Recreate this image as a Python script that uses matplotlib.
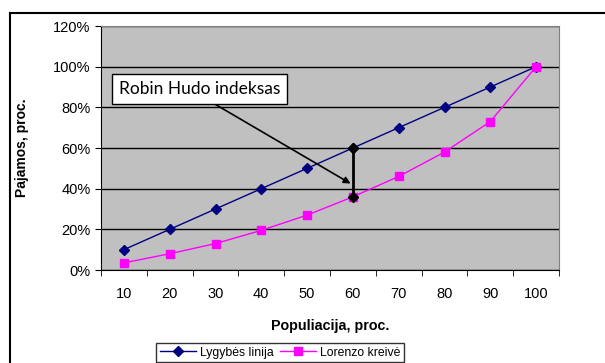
import matplotlib
matplotlib.use('Agg')
from matplotlib import pyplot as plt
from matplotlib.lines import Line2D
from matplotlib.ticker import FuncFormatter

plt.rcParams['font.family'] = ['Liberation Sans', 'DejaVu Sans']

population = [10, 20, 30, 40, 50, 60, 70, 80, 90, 100]
equality = [10, 20, 30, 40, 50, 60, 70, 80, 90, 100]
lorenz = [3.5, 8, 13, 19.5, 27, 36, 46, 58, 73, 100]
hood_index = 5  # the 60 % point where the gap is marked

fig = plt.figure(figsize=(6.05, 3.63), dpi=100)
ax = fig.add_axes([101/605, 1 - 270/363, 458/605, 244/363])

# outer chart border (only left and top visible in the crop)
fig.add_artist(Line2D([10/605, 10/605], [0, 1 - 13/363], color='black', lw=1.5))
fig.add_artist(Line2D([10/605, 1], [1 - 13/363, 1 - 13/363], color='black', lw=1.5))

ax.set_facecolor('#c0c0c0')
x = list(range(len(population)))
ax.plot(x, equality, color='#000080', marker='D', ms=5, lw=1, label='Lygybės linija', zorder=3)
ax.plot(x, lorenz, color='#ff00ff', marker='s', ms=6, lw=1, label='Lorenzo kreivė', zorder=3)

# Robin Hood index: vertical gap between the two curves
i = hood_index
ax.plot([i, i], [equality[i], lorenz[i]], color='black', lw=2, marker='D', ms=5, zorder=4)
ax.annotate('Robin Hudo indeksas', xy=(i - 0.05, 42.5), xytext=(-0.11, 89),
            fontsize=12.5, family=['Lato', 'DejaVu Sans'], va='center', ha='left',
            bbox=dict(boxstyle='square,pad=0.4', fc='white', ec='black', lw=1),
            arrowprops=dict(arrowstyle='-|>', color='black', lw=1.2, mutation_scale=10,
                            shrinkA=0, shrinkB=0, relpos=(0.52, 0)),
            zorder=5)

ax.set_xlim(-0.5, len(population) - 0.5)
ax.set_ylim(0, 120)
ax.set_yticks(range(0, 121, 20))
ax.yaxis.set_major_formatter(FuncFormatter(lambda v, p: f'{int(v)}%'))
ax.set_xticks(x)
ax.set_xticklabels(population)
ax.set_xticks([v - 0.5 for v in x] + [len(x) - 0.5], minor=True)
ax.tick_params(axis='x', which='major', length=0, pad=12, labelsize=10.5)
ax.tick_params(axis='x', which='minor', length=4, direction='out')
ax.tick_params(axis='y', length=4, labelsize=10.5)
ax.grid(axis='y', color='black', lw=1)
ax.set_axisbelow(True)
for s in ['top', 'right']:
    ax.spines[s].set_color('#808080')
ax.spines['left'].set_color('black')
ax.spines['bottom'].set_color('black')

ax.set_xlabel('Populiacija, proc.', fontsize=10.3, fontweight='bold', labelpad=13)
ax.set_ylabel('Pajamos, proc.', fontsize=10, fontweight='bold', labelpad=17)

leg = ax.legend(loc='upper center', bbox_to_anchor=(280/605, 1 - 343/363),
                bbox_transform=fig.transFigure, ncol=2, fontsize=8.8, frameon=True,
                fancybox=False, edgecolor='black', handlelength=3.0,
                columnspacing=0.5, handletextpad=0.3, borderpad=0.3, borderaxespad=0)
leg.get_frame().set_linewidth(1)

fig.savefig('out.png', dpi=100)
